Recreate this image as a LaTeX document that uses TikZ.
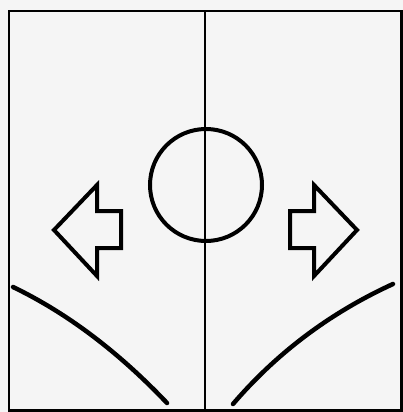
\documentclass[tikz,border=0pt]{standalone}
\begin{document}
\begin{tikzpicture}[x=1pt,y=-1pt,
  frame/.style={line width=2.5pt},
  divider/.style={line width=1.1pt},
  outlineshape/.style={line width=4pt, line join=miter},
  curve/.style={line width=4.5pt, line cap=round}]
\useasboundingbox[fill=black!4] (0,0) rectangle (403,412);
\draw[frame] (9,11) rectangle (401.5,410.5);
\coordinate (top) at (205,11);
\coordinate (bot) at (205,410);
\draw[divider] (top) -- (bot);
\draw[outlineshape] (206,185) circle (56);
\draw[outlineshape] (54,230) -- (97,185) -- (97,211) -- (121,211) -- (121,248) -- (97,248) -- (97,276) -- cycle;
\draw[outlineshape] (357,230) -- (314,185) -- (314,211) -- (290,211) -- (290,248) -- (314,248) -- (314,276) -- cycle;
\draw[curve] (13,287) .. controls (67,313) and (118.3,351.7) .. (167,403);
\draw[curve] (233,404) .. controls (277,352.7) and (330.3,312.7) .. (393,284);
\end{tikzpicture}
\end{document}
